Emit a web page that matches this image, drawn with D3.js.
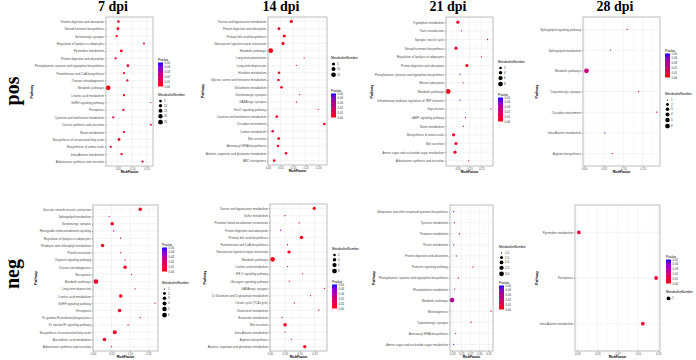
<!DOCTYPE html>
<html>
<head>
<meta charset="utf-8">
<script src="https://cdn.jsdelivr.net/npm/d3@7"></script>
<style>
  body { margin: 0; background: #fff; }
  svg { display: block; }
</style>
</head>
<body>
<div id="chart"></div>
<script>
// ---- data ----
const colTitles = ["7 dpi", "14 dpi", "21 dpi", "28 dpi"];
const rowTitles = ["pos", "neg"];
const pvalueTicks = [0, 0.01, 0.02, 0.03, 0.04, 0.05];

// 7 dpi pos
const pos7Path = ["Vitamin digestion and absorption","Steroid hormone biosynthesis","Serotonergic synapse","Regulation of lipolysis in adipocytes","Pyrimidine metabolism","Protein digestion and absorption","Phenylalanine, tyrosine and tryptophan biosynthesis","Pantothenate and CoA biosynthesis","Ovarian steroidogenesis","Metabolic pathways","Linoleic acid metabolism","GnRH signaling pathway","Ferroptosis","Cysteine and methionine metabolism","Cortisol synthesis and secretion","Biotin metabolism","Biosynthesis of unsaturated fatty acids","Biosynthesis of amino acids","beta-Alanine metabolism","Aldosterone synthesis and secretion"];
const pos7Rich = [0.052,0.050,0.046,0.141,0.062,0.042,0.085,0.071,0.083,0.016,0.071,0.165,0.069,0.034,0.165,0.071,0.054,0.025,0.063,0.136];
const pos7P = [0.003,0.002,0.004,0.006,0.004,0.010,0.005,0.004,0.005,0.001,0.004,0.018,0.005,0.014,0.008,0.004,0.003,0.006,0.004,0.006];
const pos7N = [4,6,3,2,6,3,5,3,3,26,3,1,3,3,2,3,6,3,3,3];
const pos7Ticks = [0.05,0.10,0.15];
const pos7Sizes = [5,10,15,20,25];

// 14 dpi pos
const pos14Path = ["Taurine and hypotaurine metabolism","Protein digestion and absorption","Primary bile acid biosynthesis","Neuroactive ligand-receptor interaction","Metabolic pathways","Long-term potentiation","Long-term depression","Histidine metabolism","Glycine, serine and threonine metabolism","Glutathione metabolism","Glutamatergic synapse","GABAergic synapse","FoxO signaling pathway","Cysteine and methionine metabolism","Circadian entrainment","Carbon metabolism","Bile secretion","Aminoacyl-tRNA biosynthesis","Alanine, aspartate and glutamate metabolism","ABC transporters"];
const pos14Rich = [0.093,0.044,0.065,0.060,0.011,0.144,0.113,0.044,0.042,0.054,0.126,0.113,0.200,0.035,0.224,0.019,0.043,0.040,0.072,0.025];
const pos14P = [0.002,0.004,0.002,0.003,0.001,0.010,0.012,0.004,0.005,0.004,0.010,0.018,0.008,0.006,0.004,0.015,0.003,0.006,0.004,0.006];
const pos14N = [5,4,5,5,16,1,1,3,3,3,1,1,1,3,3,3,4,3,3,3];
const pos14Ticks = [0,0.05,0.10,0.15,0.20];
const pos14Sizes = [5,10,15];

// 21 dpi pos
const pos21Path = ["Tryptophan metabolism","Taste transduction","Synaptic vesicle cycle","Steroid hormone biosynthesis","Regulation of lipolysis in adipocytes","Protein digestion and absorption","Phenylalanine, tyrosine and tryptophan biosynthesis","Mineral absorption","Metabolic pathways","Inflammatory mediator regulation of TRP channels","Gap junction","cAMP signaling pathway","Biotin metabolism","Biosynthesis of amino acids","Bile secretion","Amino sugar and nucleotide sugar metabolism","Aldosterone synthesis and secretion"];
const pos21Rich = [0.051,0.066,0.176,0.043,0.150,0.089,0.060,0.073,0.010,0.060,0.190,0.083,0.074,0.033,0.043,0.039,0.096];
const pos21P = [0.008,0.036,0.015,0.005,0.020,0.003,0.041,0.030,0.002,0.041,0.019,0.030,0.031,0.006,0.005,0.006,0.022];
const pos21N = [3,1,1,3,1,3,1,1,8,1,1,1,1,3,3,3,1];
const pos21Ticks = [0.05,0.10,0.15];
const pos21Sizes = [2,4,6,8];

// 28 dpi pos
const pos28Path = ["Sphingolipid signaling pathway","Sphingolipid metabolism","Metabolic pathways","Dopaminergic synapse","Circadian entrainment","beta-Alanine metabolism","Arginine biosynthesis"];
const pos28Rich = [0.110,0.067,0.006,0.139,0.185,0.053,0.072];
const pos28P = [0.014,0.030,0.022,0.012,0.012,0.038,0.027];
const pos28N = [1,1,6,1,1,1,1];
const pos28Ticks = [0,0.05,0.10,0.15];
const pos28Sizes = [1,2,3,4,5,6];

// 7 dpi neg
const neg7Path = ["Vascular smooth muscle contraction","Sphingolipid metabolism","Serotonergic synapse","Retrograde endocannabinoid signaling","Regulation of lipolysis in adipocytes","Porphyrin and chlorophyll metabolism","Platelet activation","Oxytocin signaling pathway","Ovarian steroidogenesis","Necroptosis","Metabolic pathways","Long-term depression","Linoleic acid metabolism","GnRH signaling pathway","Ferroptosis","Fc gamma R-mediated phagocytosis","Fc epsilon RI signaling pathway","Biosynthesis of unsaturated fatty acids","Arachidonic acid metabolism","Aldosterone synthesis and secretion"];
const neg7Rich = [0.128,0.044,0.052,0.056,0.075,0.026,0.075,0.087,0.087,0.104,0.008,0.114,0.075,0.168,0.072,0.128,0.095,0.059,0.031,0.050];
const neg7P = [0.003,0.028,0.004,0.016,0.011,0.003,0.011,0.010,0.004,0.010,0.007,0.011,0.004,0.011,0.004,0.011,0.011,0.005,0.006,0.022];
const neg7N = [3,1,3,1,1,3,1,1,3,1,6,1,3,1,3,1,1,4,3,1];
const neg7Ticks = [0,0.05,0.10,0.15];
const neg7Sizes = [1,2,3,4,5,6];

// 14 dpi neg
const neg14Path = ["Taurine and hypotaurine metabolism","Sulfur metabolism","Proximal tubule bicarbonate reclamation","Protein digestion and absorption","Primary bile acid biosynthesis","Pantothenate and CoA biosynthesis","Neuroactive ligand-receptor interaction","Metabolic pathways","Linoleic acid metabolism","HIF-1 signaling pathway","Glucagon signaling pathway","GABAergic synapse","D-Glutamine and D-glutamate metabolism","Citrate cycle (TCA cycle)","Cholesterol metabolism","Butanoate metabolism","Bile secretion","beta-Alanine metabolism","Arginine biosynthesis","Alanine, aspartate and glutamate metabolism"];
const neg14Rich = [0.149,0.051,0.098,0.036,0.106,0.059,0.064,0.009,0.059,0.110,0.065,0.183,0.136,0.082,0.164,0.041,0.051,0.051,0.072,0.117];
const neg14P = [0.003,0.028,0.015,0.032,0.003,0.020,0.004,0.002,0.020,0.015,0.020,0.010,0.010,0.015,0.012,0.030,0.003,0.025,0.020,0.004];
const neg14N = [3,1,1,1,4,1,3,8,1,1,1,1,1,1,1,1,4,1,1,3];
const neg14Ticks = [0,0.05,0.10,0.15];
const neg14Sizes = [2,4,6,8];

// 21 dpi neg
const neg21Path = ["Ubiquinone and other terpenoid-quinone biosynthesis","Tyrosine metabolism","Thiamine metabolism","Purine metabolism","Protein digestion and absorption","Prolactin signaling pathway","Phenylalanine, tyrosine and tryptophan biosynthesis","Phenylalanine metabolism","Metabolic pathways","Melanogenesis","Dopaminergic synapse","Aminoacyl-tRNA biosynthesis","Amino sugar and nucleotide sugar metabolism"];
const neg21Rich = [0.0287,0.0306,0.0444,0.0287,0.0361,0.0824,0.0417,0.0315,0.0241,0.1324,0.0769,0.0343,0.0287];
const neg21P = [0.035,0.030,0.015,0.035,0.020,0.008,0.018,0.028,0.028,0.008,0.010,0.020,0.040];
const neg21N = [1,1,1,1,1,1,1,1,3,1,1,1,1];
const neg21Ticks = [0.025,0.050,0.075,0.100,0.125];
const neg21Sizes = [1,1.5,2,2.5,3];

// 28 dpi neg
const neg28Path = ["Pyrimidine metabolism","Ferroptosis","beta-Alanine metabolism"];
const neg28Rich = [0.027,0.1225,0.106];
const neg28P = [0.009,0.008,0.009];
const neg28N = [1,1,1];
const neg28Ticks = [0.025,0.050,0.075,0.100,0.125];
const neg28Sizes = [1];

// ---- layout ----
var panels = [
  {path: pos7Path, rich: pos7Rich, p: pos7P, n: pos7N, ticks: pos7Ticks, sizes: pos7Sizes, box: [106,17,153,166], lx: 158, pY: 60, nY: 95},
  {path: pos14Path, rich: pos14Rich, p: pos14P, n: pos14N, ticks: pos14Ticks, sizes: pos14Sizes, box: [268,17,327,165], lx: 331, pY: 91, nY: 58},
  {path: pos21Path, rich: pos21Rich, p: pos21P, n: pos21N, ticks: pos21Ticks, sizes: pos21Sizes, box: [446,17,493,166], lx: 498, pY: 95, nY: 62},
  {path: pos28Path, rich: pos28Rich, p: pos28P, n: pos28N, ticks: pos28Ticks, sizes: pos28Sizes, box: [583,17,660,166], lx: 665, pY: 51, nY: 94},
  {path: neg7Path, rich: neg7Rich, p: neg7P, n: neg7N, ticks: neg7Ticks, sizes: neg7Sizes, box: [93,205,158,351], lx: 162, pY: 245, nY: 283},
  {path: neg14Path, rich: neg14Rich, p: neg14P, n: neg14N, ticks: neg14Ticks, sizes: neg14Sizes, box: [270,204,327,351], lx: 332, pY: 282, nY: 249},
  {path: neg21Path, rich: neg21Rich, p: neg21P, n: neg21N, ticks: neg21Ticks, sizes: neg21Sizes, box: [450,205,493,351], lx: 499, pY: 283, nY: 247},
  {path: neg28Path, rich: neg28Rich, p: neg28P, n: neg28N, ticks: neg28Ticks, sizes: neg28Sizes, box: [575,205,660,351], lx: 666, pY: 257, nY: 292}
];
var colX = [113, 281, 448, 615];
var rowY = [91, 274];

var rMin = 0.65, rMax = 2.4;
var sans = "'Liberation Sans', Arial, sans-serif";

var color = d3.scaleLinear().domain([0, 0.05]).range(["red", "blue"]).interpolate(d3.interpolateLab);

var svg = d3.select("#chart").append("svg")
    .attr("width", 696)
    .attr("height", 360)
    .style("background", "#fff");

// shared colorbar gradient (bottom = 0, top = 0.05)
var grad = svg.append("defs").append("linearGradient")
    .attr("id", "pgrad")
    .attr("x1", 0).attr("y1", 1).attr("x2", 0).attr("y2", 0);
d3.range(11).forEach(function(i){
    grad.append("stop").attr("offset", i / 10).attr("stop-color", color(0.05 * i / 10));
});

// column / row titles
svg.selectAll(".coltitle").data(colTitles).enter().append("text")
    .attr("x", function(d, i){ return colX[i]; })
    .attr("y", 11)
    .attr("text-anchor", "middle")
    .style("font-family", "'Liberation Serif', 'Times New Roman', serif")
    .style("font-weight", "bold")
    .style("font-size", "14px")
    .text(function(d){ return d; });

svg.selectAll(".rowtitle").data(rowTitles).enter().append("text")
    .attr("transform", function(d, i){ return "translate(19," + rowY[i] + ")rotate(-90)"; })
    .attr("text-anchor", "middle")
    .style("font-family", "'Liberation Serif', 'Times New Roman', serif")
    .style("font-weight", "bold")
    .style("font-size", "20px")
    .text(function(d){ return d; });

panels.forEach(function(pn){
    var x0 = pn.box[0], y0 = pn.box[1], x1 = pn.box[2], y1 = pn.box[3];
    var g = svg.append("g");

    var ext = d3.extent(pn.rich);
    var pad = (ext[1] - ext[0]) * 0.05;
    var x = d3.scaleLinear().domain([ext[0] - pad, ext[1] + pad]).range([x0, x1]);
    var y = d3.scalePoint().domain(pn.path).range([y0, y1]).padding(0.6);

    var nExt = d3.extent(pn.n);
    function rad(v){
        var t = nExt[1] > nExt[0] ? (v - nExt[0]) / (nExt[1] - nExt[0]) : 0.5;
        t = Math.max(0, Math.min(1, t));
        return rMin + (rMax - rMin) * Math.sqrt(t);
    }

    // panel background + grid
    g.append("rect").attr("x", x0).attr("y", y0).attr("width", x1 - x0).attr("height", y1 - y0)
        .attr("fill", "#fff");
    var step = pn.ticks[1] - pn.ticks[0];
    var minor = [];
    for (var v = pn.ticks[0] - step / 2; v <= x.domain()[1]; v += step) {
        if (v >= x.domain()[0]) minor.push(v);
    }
    g.selectAll(".minor").data(minor).enter().append("line")
        .attr("x1", function(d){ return x(d); }).attr("x2", function(d){ return x(d); })
        .attr("y1", y0).attr("y2", y1)
        .attr("stroke", "#f2f2f2").attr("stroke-width", 0.3);
    g.selectAll(".vmajor").data(pn.ticks).enter().append("line")
        .attr("x1", function(d){ return x(d); }).attr("x2", function(d){ return x(d); })
        .attr("y1", y0).attr("y2", y1)
        .attr("stroke", "#e6e6e6").attr("stroke-width", 0.45);
    g.selectAll(".hmajor").data(pn.path).enter().append("line")
        .attr("x1", x0).attr("x2", x1)
        .attr("y1", function(d){ return y(d); }).attr("y2", function(d){ return y(d); })
        .attr("stroke", "#e6e6e6").attr("stroke-width", 0.45);

    // points
    var rows = pn.path.map(function(d, i){ return {path: d, rich: pn.rich[i], p: pn.p[i], n: pn.n[i]}; });
    g.selectAll(".dot").data(rows).enter().append("circle")
        .attr("cx", function(d){ return x(d.rich); })
        .attr("cy", function(d){ return y(d.path); })
        .attr("r", function(d){ return rad(d.n); })
        .attr("fill", function(d){ return color(d.p); });

    g.append("rect").attr("x", x0).attr("y", y0).attr("width", x1 - x0).attr("height", y1 - y0)
        .attr("fill", "none").attr("stroke", "#a8a8a8").attr("stroke-width", 0.75);

    // axes
    var fmt = d3.format("." + d3.precisionFixed(step) + "f");
    var xa = g.append("g")
        .attr("transform", "translate(0," + y1 + ")")
        .call(d3.axisBottom(x).tickValues(pn.ticks).tickFormat(fmt).tickSize(1.2).tickPadding(0.8));
    var ya = g.append("g")
        .attr("transform", "translate(" + x0 + ",0)")
        .call(d3.axisLeft(y).tickSize(1.2).tickPadding(0.8));
    [xa, ya].forEach(function(a){
        a.select(".domain").remove();
        a.selectAll("line").attr("stroke", "#555").attr("stroke-width", 0.4);
        a.selectAll("text").attr("fill", "#4d4d4d")
            .style("font-family", sans).style("font-size", "3px");
    });
    xa.selectAll("text").style("font-size", "2.8px");

    g.append("text")
        .attr("x", (x0 + x1) / 2).attr("y", y1 + 7.3)
        .attr("text-anchor", "middle")
        .style("font-family", sans).style("font-weight", "bold").style("font-size", "3.4px")
        .text("RichFactor");

    var leftEdge = ya.node().getBBox().x;
    g.append("text")
        .attr("transform", "translate(" + (x0 + leftEdge - 2.2) + "," + ((y0 + y1) / 2) + ")rotate(-90)")
        .attr("text-anchor", "middle")
        .style("font-family", sans).style("font-weight", "bold").style("font-size", "3.4px")
        .text("Pathway");

    // Pvalue colour bar
    var lx = pn.lx;
    g.append("text").attr("x", lx).attr("y", pn.pY + 1)
        .style("font-family", sans).style("font-size", "3.3px")
        .text("Pvalue");
    var barTop = pn.pY + 2.5, barH = 24;
    var py = d3.scaleLinear().domain([0, 0.05]).range([barTop + barH, barTop]);
    g.append("rect").attr("x", lx).attr("y", barTop).attr("width", 5).attr("height", barH)
        .attr("fill", "url(#pgrad)");
    g.selectAll(".ptick").data(pvalueTicks).enter().append("text")
        .attr("x", lx + 6.5).attr("y", function(d){ return py(d) + 1; })
        .attr("fill", "#333")
        .style("font-family", sans).style("font-size", "2.9px")
        .text(function(d){ return d3.format(".2f")(d); });
    g.selectAll(".pmark").data(pvalueTicks).enter().append("line")
        .attr("x1", lx).attr("x2", lx + 0.9)
        .attr("y1", function(d){ return py(d); }).attr("y2", function(d){ return py(d); })
        .attr("stroke", "#fff").attr("stroke-width", 0.3);

    // MetaboliteNumber size legend
    g.append("text").attr("x", lx).attr("y", pn.nY + 1)
        .style("font-family", sans).style("font-size", "3.3px")
        .text("MetaboliteNumber");
    var sfmt = pn.sizes.some(function(d){ return d % 1 !== 0; }) ? d3.format(".1f") : d3.format("d");
    var cy = pn.nY + 3.8;
    pn.sizes.forEach(function(s){
        var r = rad(s);
        var h = Math.max(4.5, 2 * r + 1.4);
        var c = cy + h / 2;
        g.append("circle").attr("cx", lx + 2.5).attr("cy", c).attr("r", r).attr("fill", "#000");
        g.append("text").attr("x", lx + 6).attr("y", c + 1)
            .attr("fill", "#333")
            .style("font-family", sans).style("font-size", "2.9px")
            .text(sfmt(s));
        cy += h;
    });
});
</script>
</body>
</html>
